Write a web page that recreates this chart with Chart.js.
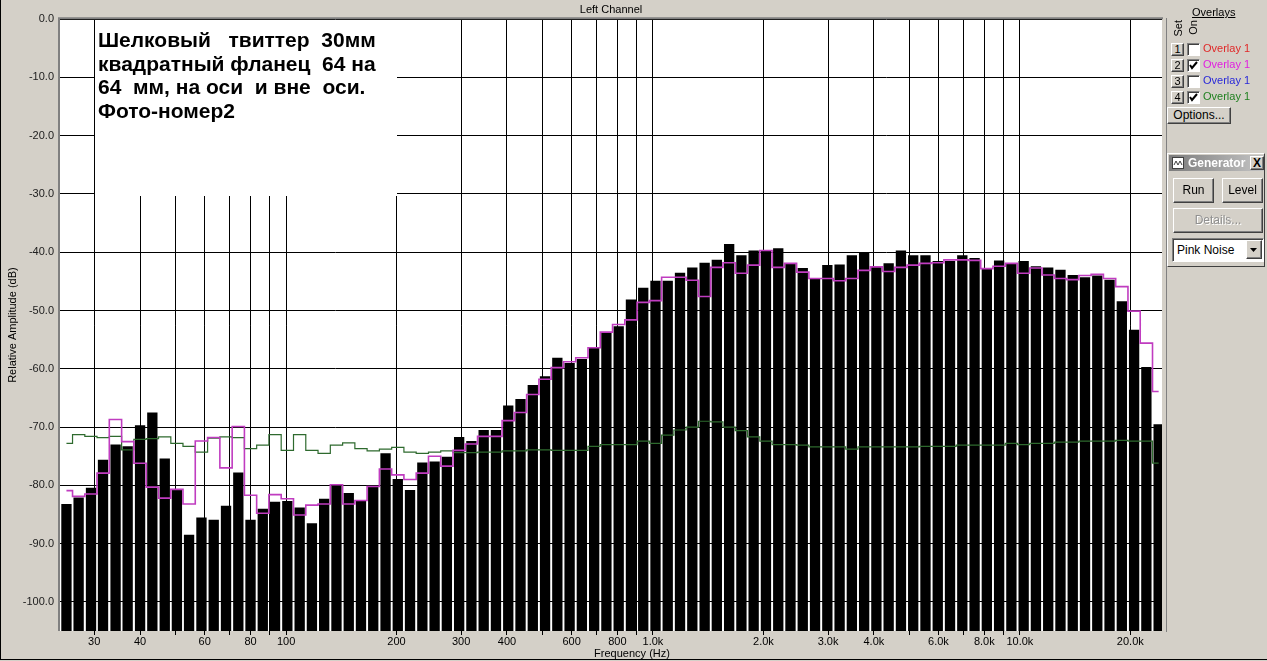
<!DOCTYPE html>
<html>
<head>
<meta charset="utf-8">
<script src="https://cdn.jsdelivr.net/npm/chart.js@4.4.1/dist/chart.umd.min.js"></script>
<style>
   body{ margin:0; background:#d4d0c8; font-family:"Liberation Sans", Arial, sans-serif; font-size:11px; color:#000; overflow:hidden; }
   #wrap{ position:absolute; left:0; top:0; width:1165px; height:661px; }
   #frame{ position:absolute; left:0; top:0; width:1266px; height:659px; border-left:1px solid #000; border-bottom:1px solid #000; pointer-events:none; }
   #sep{ position:absolute; left:1166px; top:18px; width:1px; height:614px; background:#808080; }
   .a{ position:absolute; white-space:nowrap; }
   .btn{ position:absolute; box-sizing:border-box; background:#d4d0c8; border:1px solid; border-color:#fff #404040 #404040 #fff;
         box-shadow:inset -1px -1px 0 #808080; text-align:center; }
   .sunk{ position:absolute; box-sizing:border-box; background:#fff; border:1px solid; border-color:#808080 #fff #fff #808080;
          box-shadow:inset 1px 1px 0 #404040; }
   .vt{ position:absolute; writing-mode:vertical-rl; transform:rotate(180deg); font-size:11px; }
</style>
</head>
<body>
<div id="wrap"><canvas id="rtaChart"></canvas></div>
<div id="frame"></div>
<div id="sep"></div>

<!-- overlay panel -->
<div class="a" style="left:1192px;top:6px;text-decoration:underline">Overlays</div>
<div class="vt" style="left:1172px;top:20px">Set</div>
<div class="vt" style="left:1187px;top:20px">On</div>

<div class="btn" style="left:1171px;top:43px;width:13px;height:13px;line-height:11px">1</div>
<div class="sunk" style="left:1187px;top:43px;width:13px;height:13px"></div>
<div class="a" style="left:1203px;top:42px;color:#e02828">Overlay 1</div>

<div class="btn" style="left:1171px;top:59px;width:13px;height:13px;line-height:11px">2</div>
<div class="sunk" style="left:1187px;top:59px;width:13px;height:13px">
   <svg width="11" height="11" style="position:absolute;left:0;top:0"><polyline points="2,5 4,8 9,2" fill="none" stroke="#000" stroke-width="2"/></svg>
</div>
<div class="a" style="left:1203px;top:58px;color:#e020e0">Overlay 1</div>

<div class="btn" style="left:1171px;top:75px;width:13px;height:13px;line-height:11px">3</div>
<div class="sunk" style="left:1187px;top:75px;width:13px;height:13px"></div>
<div class="a" style="left:1203px;top:74px;color:#2828d8">Overlay 1</div>

<div class="btn" style="left:1171px;top:91px;width:13px;height:13px;line-height:11px">4</div>
<div class="sunk" style="left:1187px;top:91px;width:13px;height:13px">
   <svg width="11" height="11" style="position:absolute;left:0;top:0"><polyline points="2,5 4,8 9,2" fill="none" stroke="#000" stroke-width="2"/></svg>
</div>
<div class="a" style="left:1203px;top:90px;color:#208020">Overlay 1</div>

<div class="btn" style="left:1167px;top:107px;width:64px;height:17px;line-height:14px;font-size:12px">Options...</div>

<!-- generator panel -->
<div class="a" style="left:1167px;top:153px;width:98px;height:114px;box-sizing:border-box;border:1px solid;border-color:#fff #404040 #404040 #fff"></div>
<div class="a" style="left:1169px;top:155px;width:95px;height:16px;background:linear-gradient(to right,#7c7c7c,#c4c4c4)"></div>
<div class="a" style="left:1172px;top:157px;width:12px;height:12px;background:#fff;border:1px solid #404040;box-sizing:border-box">
   <svg width="10" height="10" style="position:absolute;left:0;top:0"><polyline points="1,7 3,3 5,7 7,3 9,7" fill="none" stroke="#404040" stroke-width="1"/></svg>
</div>
<div class="a" style="left:1188px;top:156px;width:62px;overflow:hidden;color:#fff;font-weight:bold;font-size:12px">Generator</div>
<div class="btn" style="left:1250px;top:156px;width:14px;height:14px;line-height:12px;font-weight:bold;font-size:12px">X</div>
<div class="btn" style="left:1173px;top:178px;width:41px;height:25px;line-height:22px;font-size:12px">Run</div>
<div class="btn" style="left:1222px;top:178px;width:41px;height:25px;line-height:22px;font-size:12px">Level</div>
<div class="btn" style="left:1173px;top:208px;width:90px;height:25px;line-height:22px;font-size:12px;color:#909090;text-shadow:1px 1px 0 #fff">Details...</div>
<div class="sunk" style="left:1172px;top:238px;width:92px;height:24px">
   <div class="a" style="left:4px;top:4px;font-size:12px">Pink Noise</div>
   <div class="btn" style="left:73px;top:1px;width:16px;height:19px">
      <svg width="14" height="17" style="position:absolute;left:0;top:0"><polygon points="3,7 10,7 6.5,11" fill="#000"/></svg>
   </div>
</div>

<script>
// 1/9 octave band centres (Hz)
const freqs = [
   25.2, 27.2, 29.4, 31.7, 34.3, 37.0, 40.0, 43.2, 46.7,
   50.4, 54.4, 58.8, 63.5, 68.6, 74.1, 80.0, 86.4, 93.3,
   100.8, 108.9, 117.6, 127.0, 137.2, 148.2, 160.0, 172.8, 186.7,
   201.6, 217.7, 235.2, 254.0, 274.3, 296.3, 320.0, 345.6, 373.3,
   403.2, 435.5, 470.4, 508.0, 548.7, 592.6, 640.0, 691.3, 746.6,
   806.4, 871.0, 940.7, 1016, 1097, 1185, 1280, 1383, 1493,
   1613, 1742, 1881, 2032, 2195, 2370, 2560, 2765, 2987,
   3226, 3484, 3763, 4064, 4389, 4741, 5120, 5530, 5973,
   6451, 6968, 7526, 8128, 8779, 9482, 10240, 11060, 11946,
   12902, 13935, 15051, 16256, 17557, 18963, 20480, 22121, 23892
];

// live measurement (black bars), dB
const leftChannel = [
   -83.2, -82.1, -80.4, -75.6, -73.0, -73.3, -69.7, -67.5, -75.4,
   -80.7, -88.5, -85.5, -85.9, -83.5, -77.8, -85.9, -84.0, -82.8,
   -82.7, -83.8, -86.5, -82.3, -79.8, -81.3, -82.6, -80.2, -74.5,
   -78.9, -80.8, -76.1, -75.9, -75.1, -71.7, -72.4, -70.5, -70.5,
   -66.3, -65.2, -62.8, -61.3, -58.1, -59.0, -58.3, -56.4, -53.7,
   -52.7, -48.1, -46.1, -44.9, -44.9, -43.5, -42.6, -41.8, -41.3,
   -38.6, -40.5, -39.7, -39.7, -39.3, -41.9, -42.7, -44.5, -42.2,
   -42.1, -40.5, -40.1, -42.5, -41.9, -39.7, -40.5, -40.5, -41.5,
   -41.5, -40.5, -41.0, -42.8, -41.4, -41.9, -41.5, -42.4, -42.6,
   -43.0, -43.9, -44.3, -44.0, -44.7, -48.4, -53.3, -59.7, -69.5
];

// overlay 2 (magenta)
const overlay2 = [
   -80.9, -81.9, -81.5, -77.9, -68.7, -72.5, -76.2, -80.3, -82.2,
   -80.7, -83.2, -72.4, -71.8, -77.0, -69.9, -81.7, -84.8, -81.6,
   -82.3, -85.1, -83.4, -83.2, -79.9, -83.2, -82.6, -80.2, -77.2,
   -78.2, -79.0, -77.9, -75.0, -76.7, -74.0, -72.9, -71.6, -71.6,
   -68.9, -67.5, -64.4, -61.8, -59.8, -58.8, -58.1, -56.4, -53.7,
   -52.4, -51.6, -48.6, -48.3, -44.3, -44.3, -44.8, -47.6, -42.6,
   -41.8, -43.6, -42.2, -39.7, -42.6, -41.9, -43.4, -44.5, -44.5,
   -44.9, -44.5, -43.1, -42.5, -43.3, -42.6, -42.2, -41.9, -41.8,
   -41.3, -41.3, -41.4, -42.8, -42.4, -41.9, -43.6, -42.7, -43.9,
   -44.5, -44.7, -44.0, -43.8, -44.5, -45.9, -50.1, -55.6, -63.9
];

// overlay 4 (green, noise floor)
const overlay4 = [
   -72.8, -71.3, -71.6, -71.8, -71.6, -73.9, -72.1, -72.0, -71.7,
   -72.8, -73.3, -74.3, -71.9, -71.7, -71.8, -73.7, -73.1, -71.3,
   -74.0, -71.3, -74.0, -74.5, -73.1, -72.7, -73.7, -74.1, -73.8,
   -73.5, -74.3, -74.5, -74.3, -74.1, -74.4, -74.4, -74.3, -74.3,
   -74.1, -74.1, -73.9, -73.9, -74.0, -74.0, -74.0, -73.3, -73.0,
   -73.0, -73.0, -72.4, -72.8, -71.4, -70.5, -70.0, -69.0, -69.1,
   -70.0, -70.6, -71.7, -72.4, -73.0, -73.0, -73.1, -73.4, -73.4,
   -73.4, -73.8, -73.4, -73.4, -73.4, -73.4, -73.4, -73.3, -73.3,
   -73.3, -73.1, -73.1, -73.1, -73.1, -72.8, -73.0, -72.8, -72.8,
   -72.6, -72.6, -72.4, -72.4, -72.4, -72.3, -72.4, -72.4, -76.2
];

const gridFreqs = [30, 40, 50, 60, 70, 80, 90, 100, 200, 300, 400, 500, 600, 700, 800, 900,
   1000, 2000, 3000, 4000, 5000, 6000, 7000, 8000, 9000, 10000, 20000];
const labelFreqs = [30, 40, 60, 80, 100, 200, 300, 400, 600, 800,
   1000, 2000, 3000, 4000, 6000, 8000, 10000, 20000];
const dbTicks = [0, -10, -20, -30, -40, -50, -60, -70, -80, -90, -100];
const xMin = 24.2, xMax = 24400, yMin = -105, yMax = 0;

const noteLines = [
   'Шелковый   твиттер  30мм',
   'квадратный фланец  64 на',
   '64  мм, на оси  и вне  оси.',
   'Фото-номер2'
];

const FONT = '"Liberation Sans", Arial, sans-serif';
Chart.defaults.font.family = FONT;
Chart.defaults.font.size = 11;
Chart.defaults.color = '#000';

const pts = (vals) => freqs.map((f, i) => ({x: f, y: vals[i]}));

const panelPlugin = {
   id: 'panel',
   beforeDraw(chart) {
      const {ctx, chartArea: a} = chart;
      ctx.save();
      ctx.fillStyle = '#fff';
      ctx.fillRect(a.left, a.top, a.right - a.left, a.bottom - a.top);
      ctx.restore();
   },
   beforeDatasetsDraw(chart) {
      // text note pasted on the graph, between the 30 Hz and 200 Hz lines
      const {ctx, scales: {x, y}} = chart;
      const l = Math.round(x.getPixelForValue(30)) + 1;
      const r = Math.round(x.getPixelForValue(200));
      const t = Math.round(y.getPixelForValue(0)) + 1;
      const b = Math.round(y.getPixelForValue(-30)) + 2;
      ctx.save();
      ctx.fillStyle = '#fff';
      ctx.fillRect(l, t, r - l, b - t);
      ctx.fillStyle = '#000';
      ctx.font = 'bold 21px ' + FONT;
      ctx.textBaseline = 'alphabetic';
      noteLines.forEach((s, i) => ctx.fillText(s, l + 3, t + 27 + i * 23.5));
      ctx.restore();
   },
   afterDraw(chart) {
      const {ctx, chartArea: a} = chart;
      ctx.save();
      ctx.strokeStyle = '#808080';
      ctx.lineWidth = 2;
      ctx.beginPath();
      ctx.moveTo(a.left - 1, a.bottom);
      ctx.lineTo(a.left - 1, a.top - 1);
      ctx.lineTo(a.right + 1, a.top - 1);
      ctx.stroke();
      ctx.fillStyle = '#000';
      ctx.font = '11px ' + FONT;
      ctx.textAlign = 'center';
      ctx.textBaseline = 'middle';
      ctx.fillText('Frequency (Hz)', 632, 654);
      ctx.restore();
   }
};

new Chart(document.getElementById('rtaChart'), {
   type: 'bar',
   data: {
      datasets: [{
         type: 'line',
         label: 'Overlay 4',
         data: pts(overlay4),
         borderColor: '#2e6a2e',
         borderWidth: 1.2,
         stepped: 'middle',
         pointRadius: 0,
         fill: false,
         order: 2
      }, {
         type: 'line',
         label: 'Overlay 2',
         data: pts(overlay2),
         borderColor: '#c03cc0',
         borderWidth: 1.6,
         stepped: 'middle',
         pointRadius: 0,
         fill: false,
         order: 1
      }, {
         type: 'bar',
         label: 'Left Channel',
         data: pts(leftChannel),
         backgroundColor: '#000',
         base: yMin,
         categoryPercentage: 1,
         barPercentage: 0.86,
         order: 3
      }]
   },
   options: {
      responsive: true,
      maintainAspectRatio: false,
      animation: false,
      layout: { padding: { left: 0, right: 3, top: 0, bottom: 0 } },
      plugins: {
         legend: { display: false },
         tooltip: { enabled: false },
         title: {
            display: true,
            text: 'Left Channel',
            fullSize: false,
            font: { size: 11, weight: 'normal' },
            color: '#000',
            padding: { top: 3, bottom: 3 }
         }
      },
      scales: {
         x: {
            type: 'logarithmic',
            min: xMin,
            max: xMax,
            offset: false,
            afterBuildTicks: (s) => { s.ticks = gridFreqs.map(v => ({value: v})); },
            afterFit: (s) => { s.height = 30; },
            ticks: {
               autoSkip: false,
               maxRotation: 0,
               padding: 0,
               callback: (v) => labelFreqs.includes(v) ? (v >= 1000 ? (v / 1000).toFixed(1) + 'k' : String(v)) : ''
            },
            grid: { color: '#000', lineWidth: 1, offset: false, drawTicks: true, tickLength: 4 },
            border: { display: false }
         },
         y: {
            type: 'linear',
            min: yMin,
            max: yMax,
            afterBuildTicks: (s) => { s.ticks = dbTicks.map(v => ({value: v})); },
            afterFit: (s) => { s.width = 60; },
            ticks: { padding: 6, color: '#202020', callback: (v) => v.toFixed(1) },
            grid: { color: '#000', lineWidth: 1, drawTicks: false },
            border: { display: false },
            title: {
               display: true,
               text: 'Relative Amplitude (dB)',
               font: { size: 11 },
               color: '#000',
               padding: { top: 6, bottom: 0 }
            }
         }
      }
   },
   plugins: [panelPlugin]
});
</script>
</body>
</html>
